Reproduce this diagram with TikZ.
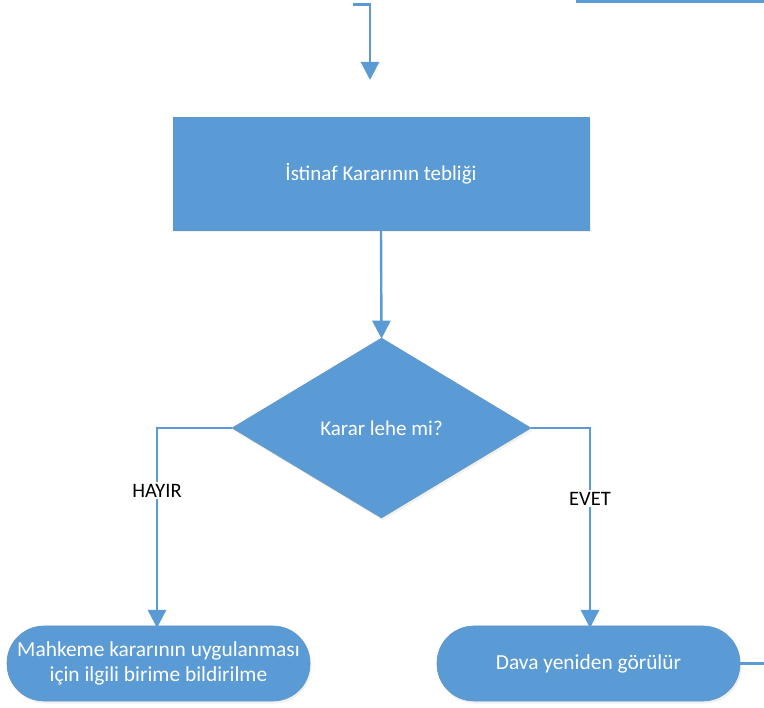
\documentclass[tikz,border=0pt]{standalone}
\usepackage{fontspec}
\setmainfont{Carlito}
\usetikzlibrary{arrows.meta,shapes.geometric,shadows}
\definecolor{blu}{HTML}{5B9BD5}
\begin{document}
\begin{tikzpicture}[x=1pt,y=-1pt,
  shape fill/.style={fill=blu, draw=blu!85!gray, line width=0.6pt, text=white,
     drop shadow={opacity=0.12, shadow xshift=1.5pt, shadow yshift=-2.5pt}},
  procbox/.style={shape fill, rectangle, inner sep=0pt, minimum width=416pt, minimum height=113pt, font=\fontsize{21}{25}\selectfont},
  decbox/.style={shape fill, diamond, inner sep=0pt, minimum width=299pt, minimum height=180pt, font=\fontsize{21}{25}\selectfont},
  endbox/.style={shape fill, rectangle, rounded corners=37pt, inner sep=0pt, minimum width=303pt, minimum height=75pt, align=center, font=\fontsize{21.4}{25}\selectfont},
  conn/.style={draw=blu, line width=2.4pt},
  arr/.style={conn, -{Triangle[width=18pt,length=18pt]}, shorten >=-1pt},
  lbl/.style={fill=white, inner sep=2pt, font=\fontsize{20.5}{24}\selectfont, text=black}
]
\useasboundingbox (0,0) rectangle (764,708);
\node[procbox] (r) at (381,173.5) {İstinaf Kararının tebliği};
\node[decbox] (d) at (381.5,428) {Karar lehe mi?};
\node[endbox] (lb) at (158.5,663.5) {Mahkeme kararının uygulanması\\için ilgili birime bildirilme};
\node[endbox] (rb) at (588.5,663.5) {Dava yeniden görülür};
\coordinate (t0) at (353,4.5);
\coordinate (t1) at (370,79);
\coordinate (u0) at (577,-2);
\coordinate (u1) at (764,1.5);
\coordinate (v1) at (764,663.5);
\coordinate (la) at (157,627);
\coordinate (ra) at (590,627);
\draw[arr] (t0) -| (t1);
\draw[conn] (u0) |- (u1);
\draw[arr] (r.south) -- (d.north);
\draw[arr] (d.west) -| (la) node[lbl, pos=0.658] (hl) {HAYIR};
\draw[arr] (d.east) -| (ra) node[lbl, pos=0.678] (el) {EVET};
\draw[conn] (rb.east) -- (v1);
\end{tikzpicture}
\end{document}
